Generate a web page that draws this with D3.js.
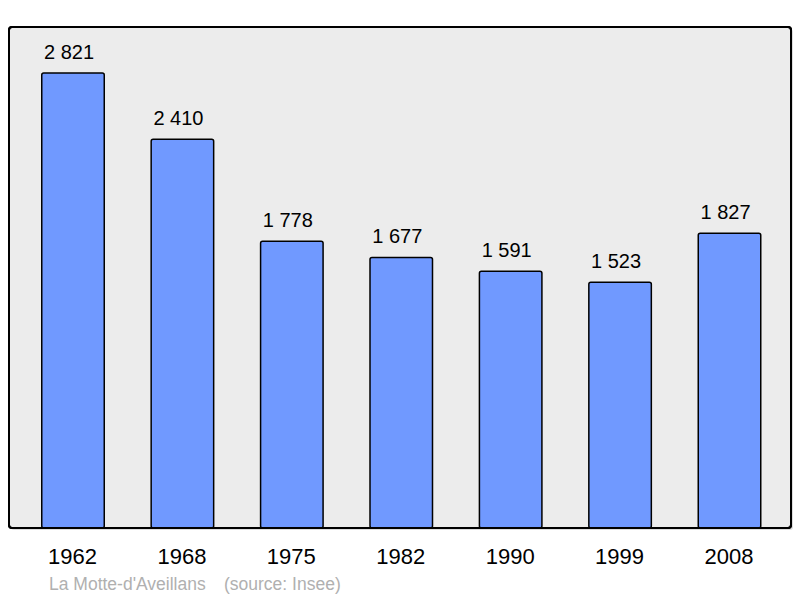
<!DOCTYPE html>
<html><head><meta charset="utf-8">
<script src="https://cdn.jsdelivr.net/npm/d3@7"></script>
<style>body{margin:0;background:#fff}svg{display:block}</style>
</head><body>
<script>
const years = ["1962","1968","1975","1982","1990","1999","2008"];
const population = [2821,2410,1778,1677,1591,1523,1827];
const valueLabels = ["2 821","2 410","1 778","1 677","1 591","1 523","1 827"];
const commune = "La Motte-d'Aveillans";
const source = "(source: Insee)";

const W=800,H=598;
const FONT="Liberation Sans, Arial, sans-serif";
const svg=d3.select("body").append("svg").attr("width",W).attr("height",H);
const frame={x:9,y:27,w:782,h:501};
svg.append("rect").attr("x",frame.x+2).attr("y",frame.y+2).attr("width",frame.w).attr("height",frame.h)
  .attr("rx",3).attr("fill","#bbb").attr("opacity",0.5);
svg.append("rect").attr("x",frame.x).attr("y",frame.y).attr("width",frame.w).attr("height",frame.h)
  .attr("rx",3).attr("fill","#ececec").attr("stroke","#000").attr("stroke-width",2);

const x=d3.scalePoint().domain(years).range([73,729.5]);
const y=d3.scaleLinear().domain([0,3106]).range([528,27]);
const bw=62.5;
const g=svg.append("g");
g.selectAll("rect.bar").data(population).join("rect").attr("class","bar")
  .attr("x",(d,i)=>x(years[i])-bw/2).attr("y",d=>y(d))
  .attr("width",bw).attr("height",d=>y(0)-y(d)).attr("rx",2)
  .attr("fill","#7099ff").attr("stroke","#000").attr("stroke-width",1.5);
g.selectAll("text.val").data(population).join("text").attr("class","val")
  .attr("x",(d,i)=>x(years[i])-4).attr("y",d=>y(d)-14)
  .attr("text-anchor","middle").attr("font-family",FONT)
  .attr("font-size",20).attr("fill","#000").text((d,i)=>valueLabels[i]);
svg.append("rect").attr("x",frame.x).attr("y",frame.y).attr("width",frame.w).attr("height",frame.h)
  .attr("rx",3).attr("fill","none").attr("stroke","#000").attr("stroke-width",2);

const xAxis=d3.axisBottom(x).tickSize(0).tickPadding(0);
const ax=svg.append("g").attr("transform","translate(-1,564)").call(xAxis);
ax.select(".domain").remove();
ax.selectAll("text").attr("dy",0).attr("font-family",FONT)
  .attr("font-size",22).attr("fill","#000");

svg.append("text").attr("x",49).attr("y",590).attr("font-family",FONT)
  .attr("font-size",17.5).attr("fill","#b0b0b0").text(commune);
svg.append("text").attr("x",224).attr("y",590).attr("font-family",FONT)
  .attr("font-size",17.5).attr("fill","#b0b0b0").text(source);
</script>
</body></html>
